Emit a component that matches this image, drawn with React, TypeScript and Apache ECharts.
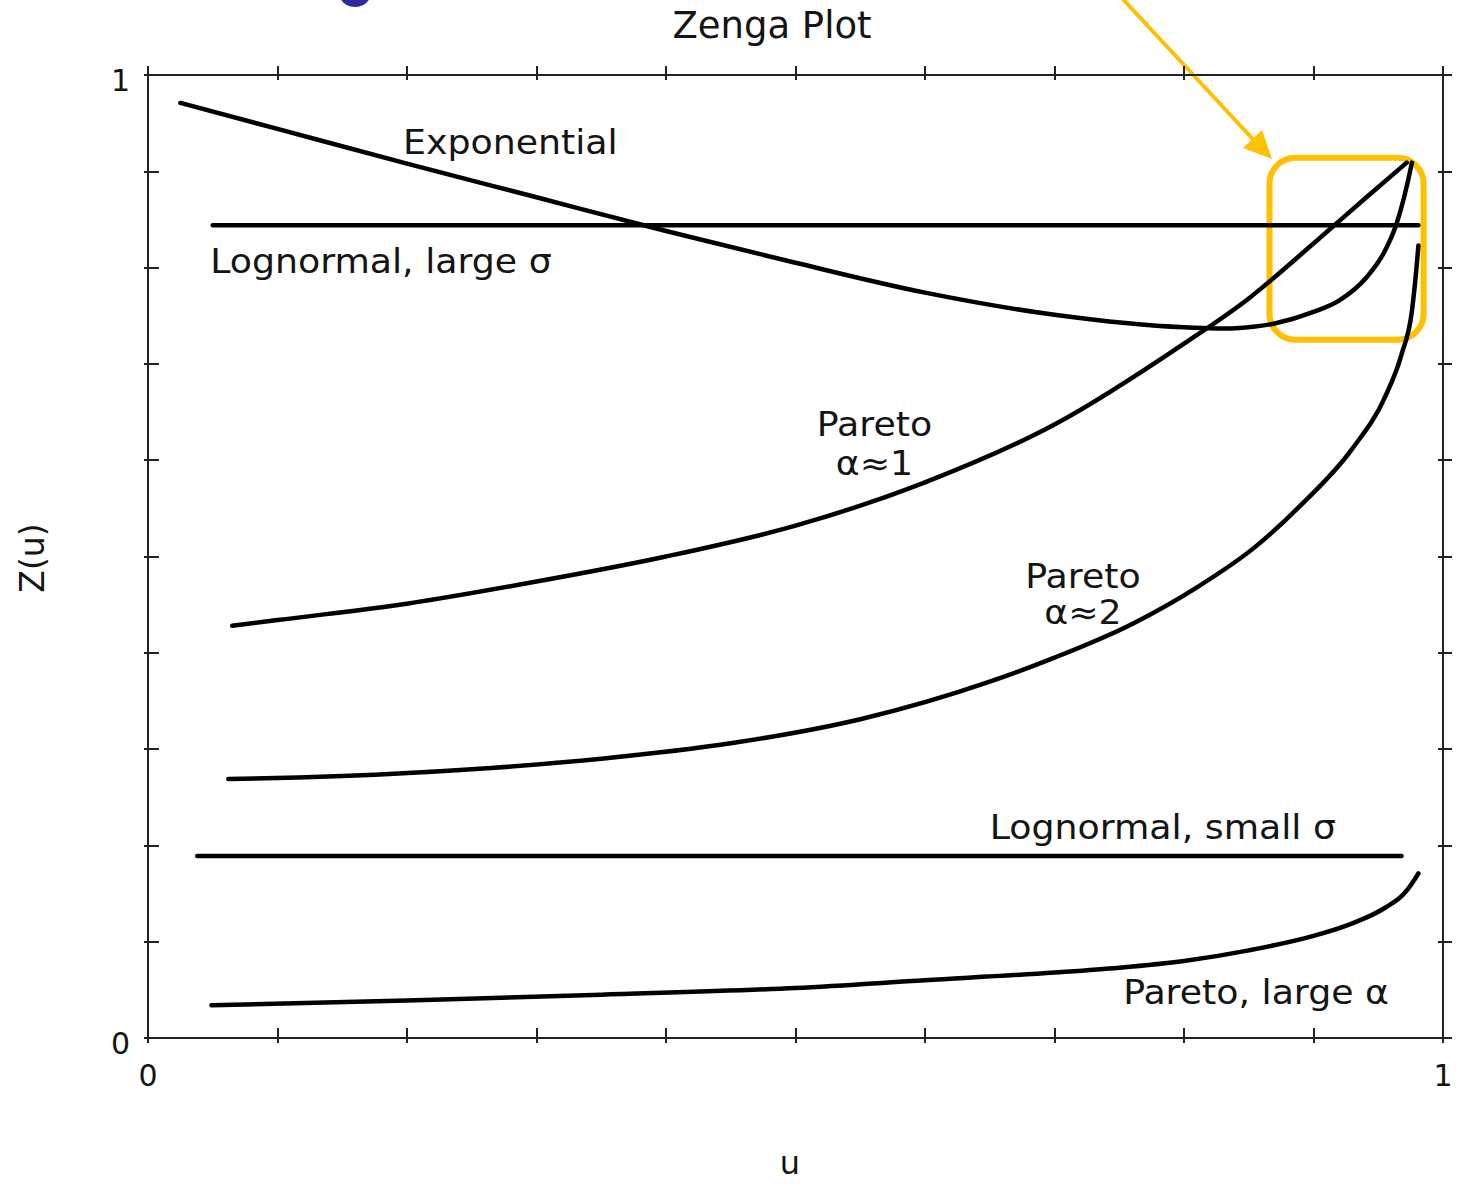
import React, { useEffect, useRef } from "react";
import * as echarts from "echarts";

// ---------- data ----------
const expU = [0.025, 0.1, 0.2, 0.3, 0.4, 0.5, 0.6, 0.7, 0.8, 0.84, 0.87, 0.9, 0.92, 0.941, 0.955, 0.964, 0.976];
const expZ = [0.971, 0.944, 0.908, 0.873, 0.838, 0.805, 0.774, 0.751, 0.738, 0.737, 0.742, 0.754, 0.766, 0.79, 0.817, 0.845, 0.909];

const lnLargeU = [0.05, 0.981];
const lnLargeZ = [0.844, 0.844];

const par1U = [0.065, 0.1, 0.2, 0.3, 0.4, 0.5, 0.6, 0.7, 0.8, 0.85, 0.9, 0.94, 0.972];
const par1Z = [0.428, 0.434, 0.451, 0.474, 0.5, 0.532, 0.577, 0.637, 0.721, 0.768, 0.825, 0.872, 0.909];

const par2U = [0.062, 0.15, 0.25, 0.35, 0.45, 0.55, 0.65, 0.7, 0.76, 0.81, 0.855, 0.89, 0.93, 0.955, 0.968, 0.976, 0.981];
const par2Z = [0.269, 0.272, 0.279, 0.29, 0.306, 0.331, 0.37, 0.395, 0.43, 0.468, 0.51, 0.553, 0.612, 0.665, 0.71, 0.755, 0.823];

const lnSmallU = [0.038, 0.968];
const lnSmallZ = [0.189, 0.189];

const parLargeU = [0.049, 0.2, 0.35, 0.5, 0.6, 0.7, 0.75, 0.8, 0.85, 0.9, 0.93, 0.955, 0.97, 0.981];
const parLargeZ = [0.034, 0.039, 0.045, 0.052, 0.06, 0.068, 0.073, 0.08, 0.091, 0.106, 0.119, 0.135, 0.15, 0.171];

const axisTickLabels = ["0", "1"];

// curve labels
const labelTexts = ["Exponential", "Lognormal, large σ", "Pareto", "α≈1", "Pareto", "α≈2", "Lognormal, small σ", "Pareto, large α"];
const labelU = [0.197, 0.048, 0.561, 0.561, 0.722, 0.722, 0.65, 0.753];
const labelZ = [0.93, 0.806, 0.637, 0.597, 0.479, 0.442, 0.218, 0.047];
const labelAlign = ["left", "left", "center", "center", "center", "center", "left", "left"];

// highlight box (data coords)
const boxU = [0.866, 0.985];
const boxZ = [0.725, 0.914];

const TITLE = "Zenga Plot";
const XNAME = "u";
const YNAME = "Z(u)";

const FONT = "'DejaVu Sans', sans-serif";
const INK = "#141414";
const AXIS = "#222";
const YELLOW = "#FFC000";

const zip = (u: number[], z: number[]) => u.map((v, i) => [v, z[i]]);

const fmt = (v: number) =>
  Math.abs(v) < 1e-9 ? axisTickLabels[0] : Math.abs(v - 1) < 1e-9 ? axisTickLabels[1] : "";

function mkX(position: string, inside: boolean, len: number, line: boolean, label: boolean) {
  return {
    type: "value",
    min: 0,
    max: 1,
    interval: 0.1,
    position,
    axisLine: { show: line, onZero: false, lineStyle: { color: AXIS, width: 2 } },
    axisTick: { show: true, inside, length: len, lineStyle: { color: AXIS, width: 2 } },
    axisLabel: { show: label, margin: 22, fontSize: 30, fontFamily: FONT, color: INK, formatter: fmt },
    splitLine: { show: false },
  };
}
function mkY(position: string, inside: boolean, len: number, line: boolean, label: boolean) {
  return {
    type: "value",
    min: 0,
    max: 1,
    interval: 0.1,
    position,
    axisLine: { show: line, onZero: false, lineStyle: { color: AXIS, width: 2 } },
    axisTick: { show: true, inside, length: len, lineStyle: { color: AXIS, width: 2 } },
    axisLabel: {
      show: label,
      margin: 18,
      fontSize: 30,
      fontFamily: FONT,
      color: INK,
      verticalAlign: "top",
      padding: [-10, 0, 0, 0],
      formatter: fmt,
    },
    splitLine: { show: false },
  };
}

// smooth cubic (Bessel tangents) path through pixel points (x increasing)
function smoothPath(pts: number[][]): string {
  const n = pts.length;
  if (n < 2) return "";
  let d = `M${pts[0][0]},${pts[0][1]}`;
  if (n === 2) return d + ` L${pts[1][0]},${pts[1][1]}`;
  const h: number[] = [];
  const s: number[] = [];
  for (let i = 0; i < n - 1; i++) {
    h.push(pts[i + 1][0] - pts[i][0]);
    s.push((pts[i + 1][1] - pts[i][1]) / h[i]);
  }
  const m: number[] = new Array(n).fill(0);
  for (let i = 1; i < n - 1; i++) {
    m[i] = (s[i - 1] * h[i] + s[i] * h[i - 1]) / (h[i - 1] + h[i]);
  }
  m[0] = 2 * s[0] - m[1];
  if (m[0] * s[0] < 0) m[0] = 0;
  m[n - 1] = 2 * s[n - 2] - m[n - 2];
  if (m[n - 1] * s[n - 2] < 0) m[n - 1] = s[n - 2];
  for (let i = 0; i < n - 1; i++) {
    const x0 = pts[i][0], y0 = pts[i][1], x1 = pts[i + 1][0], y1 = pts[i + 1][1];
    const c1x = x0 + h[i] / 3, c1y = y0 + (m[i] * h[i]) / 3;
    const c2x = x1 - h[i] / 3, c2y = y1 - (m[i + 1] * h[i]) / 3;
    d += ` C${c1x},${c1y} ${c2x},${c2y} ${x1},${y1}`;
  }
  return d;
}

export default function App() {
  const ref = useRef<HTMLDivElement>(null);
  useEffect(() => {
    const chart = echarts.init(ref.current!, null, { renderer: "svg" });
    const curveSeries = (name: string, data: number[][]) => ({
      name,
      type: "custom",
      coordinateSystem: "cartesian2d",
      xAxisIndex: 0,
      yAxisIndex: 0,
      data,
      silent: true,
      clip: false,
      renderItem: (params: any, api: any) => {
        if (params.dataIndex !== 0) return null;
        const pts = data.map((p) => api.coord(p));
        return {
          type: "path",
          shape: { pathData: smoothPath(pts) },
          style: { stroke: "#000", lineWidth: 4.5, fill: "none", lineCap: "round", lineJoin: "round" },
        };
      },
    });
    chart.setOption({
      animation: false,
      backgroundColor: "#fff",
      grid: { left: 148, right: 14, top: 75, bottom: 146, containLabel: false },
      xAxis: [
        mkX("bottom", true, 10, true, true),
        mkX("bottom", false, 5, false, false),
        mkX("top", true, 5, true, false),
        mkX("top", false, 9, false, false),
      ],
      yAxis: [
        mkY("left", true, 11, true, true),
        mkY("left", false, 4, false, false),
        mkY("right", true, 5, true, false),
        mkY("right", false, 9, false, false),
      ],
      series: [
        curveSeries("Exponential", zip(expU, expZ)),
        curveSeries("Lognormal, large σ", zip(lnLargeU, lnLargeZ)),
        curveSeries("Pareto α≈1", zip(par1U, par1Z)),
        curveSeries("Pareto α≈2", zip(par2U, par2Z)),
        curveSeries("Lognormal, small σ", zip(lnSmallU, lnSmallZ)),
        curveSeries("Pareto, large α", zip(parLargeU, parLargeZ)),
      ],
    });

    const px = (u: number, z: number) => chart.convertToPixel({ gridIndex: 0 }, [u, z]) as number[];

    const labelEls = labelTexts.map((t, i) => {
      const p = px(labelU[i], labelZ[i]);
      return {
        type: "text",
        x: p[0],
        y: p[1],
        scaleX: 1.1,
        silent: true,
        style: {
          text: t,
          fontSize: 33,
          fontFamily: FONT,
          fill: INK,
          align: labelAlign[i],
          verticalAlign: "middle",
        },
      };
    });

    const b0 = px(boxU[0], boxZ[1]);
    const b1 = px(boxU[1], boxZ[0]);

    chart.setOption({
      graphic: [
        {
          type: "text",
          x: 772,
          y: 25,
          silent: true,
          style: { text: TITLE, fontSize: 37, fontFamily: FONT, fill: INK, align: "center", verticalAlign: "middle" },
        },
        {
          type: "text",
          x: 790,
          y: 1163,
          silent: true,
          style: { text: XNAME, fontSize: 32, fontFamily: FONT, fill: INK, align: "center", verticalAlign: "middle" },
        },
        {
          type: "text",
          x: 32,
          y: 558,
          rotation: Math.PI / 2,
          silent: true,
          style: { text: YNAME, fontSize: 33, fontFamily: FONT, fill: INK, align: "center", verticalAlign: "middle" },
        },
        ...labelEls,
        {
          type: "rect",
          silent: true,
          shape: { x: b0[0], y: b0[1], width: b1[0] - b0[0], height: b1[1] - b0[1], r: 26 },
          style: { fill: "none", stroke: YELLOW, lineWidth: 6 },
        },
        {
          type: "line",
          silent: true,
          shape: { x1: 1120, y1: -4, x2: 1262, y2: 149 },
          style: { stroke: YELLOW, lineWidth: 4 },
        },
        {
          type: "polygon",
          silent: true,
          shape: { points: [[1272, 159], [1243, 148], [1262, 130]] },
          style: { fill: YELLOW },
        },
        {
          type: "sector",
          silent: true,
          shape: { cx: 355, cy: -10, r: 17, r0: 9, startAngle: 0.45, endAngle: Math.PI - 0.45, clockwise: true },
          style: { fill: "#2d2a9b" },
        },
      ],
    });
    return () => chart.dispose();
  }, []);
  return (
    <div
      ref={ref}
      style={{ position: "fixed", left: 0, top: 0, width: 1457, height: 1184, background: "#fff" }}
    />
  );
}
